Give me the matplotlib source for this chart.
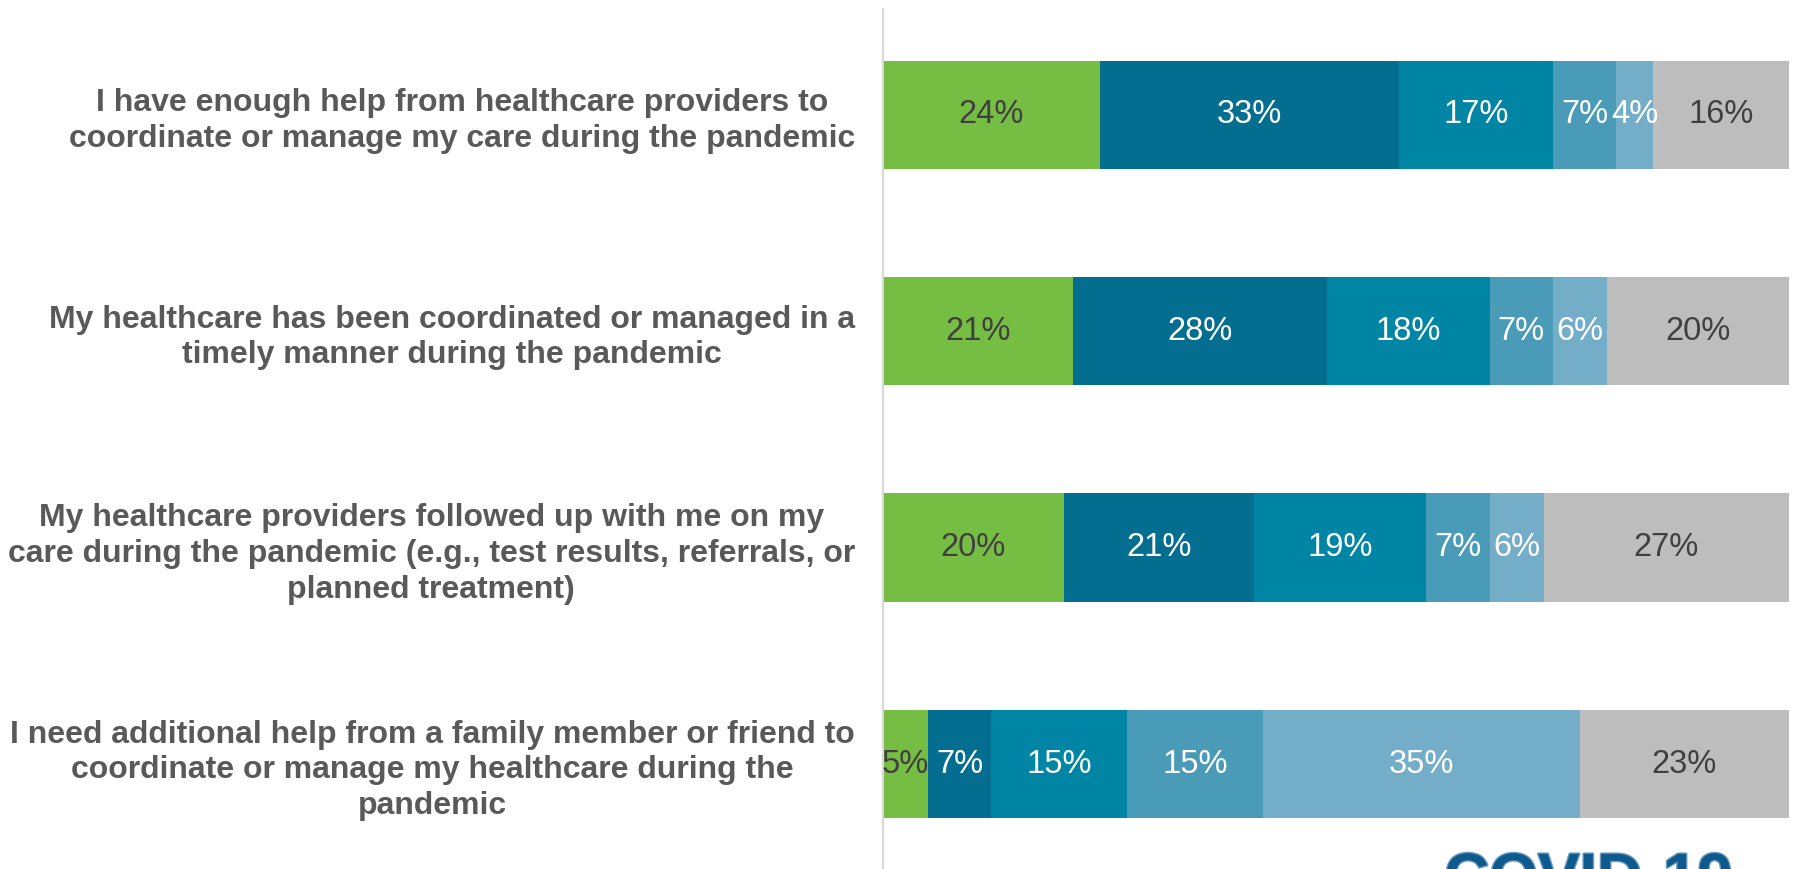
import numpy as np
import matplotlib.pyplot as plt
import matplotlib.patheffects as pe

plt.rcParams['font.family'] = ['Liberation Sans', 'DejaVu Sans']

statements = [
    "I have enough help from healthcare providers to\ncoordinate or manage my care during the pandemic",
    "My healthcare has been coordinated or managed in a\ntimely manner during the pandemic",
    "My healthcare providers followed up with me on my\ncare during the pandemic (e.g., test results, referrals, or\nplanned treatment)",
    "I need additional help from a family member or friend to\ncoordinate or manage my healthcare during the\npandemic",
]

# percent of respondents per answer, one list per answer level
strongly_agree = [24, 21, 20, 5]
agree = [33, 28, 21, 7]
neutral = [17, 18, 19, 15]
disagree = [7, 7, 7, 15]
strongly_disagree = [4, 6, 6, 35]
not_applicable = [16, 20, 27, 23]

series = [strongly_agree, agree, neutral, disagree, strongly_disagree, not_applicable]
colors = ['#76BE43', '#046E91', '#0085A4', '#4A9BB8', '#74ADC8', '#BDBDBD']
text_colors = ['#404040', 'white', 'white', 'white', 'white', '#404040']

fig = plt.figure(figsize=(17.94, 8.69), dpi=100)
ax = fig.add_axes([0.492, 0.0, 0.505, 0.99])

y = np.arange(len(statements))
left = np.zeros(len(statements))
for vals, col, tcol in zip(series, colors, text_colors):
    vals = np.array(vals, dtype=float)
    bars = ax.barh(y, vals, left=left, height=0.5, color=col, edgecolor='none')
    ax.bar_label(bars, labels=[f"{v:.0f}%" for v in vals], label_type='center',
                 color=tcol, fontsize=23.5)
    left += vals

ax.set_xlim(0, 100)
ax.set_ylim(3.485, -0.49)
ax.set_yticks(y)
ax.set_yticklabels(statements, fontsize=23, fontweight='bold', color='#595959',
                   multialignment='center', linespacing=1.25)
ax.tick_params(axis='y', length=0, pad=20)
ax.set_xticks([])
for s in ['top', 'right', 'bottom']:
    ax.spines[s].set_visible(False)
ax.spines['left'].set_color('#D9D9D9')
ax.spines['left'].set_linewidth(1.5)

# logo text running off the bottom edge
fig.text(0.805, -0.032, "COVID-19", fontsize=45, fontweight='bold', color='#0F5A8C',
         ha='left', va='baseline',
         path_effects=[pe.withStroke(linewidth=2, foreground='#6A9CC0')])

fig.savefig('out.png', dpi=100)
